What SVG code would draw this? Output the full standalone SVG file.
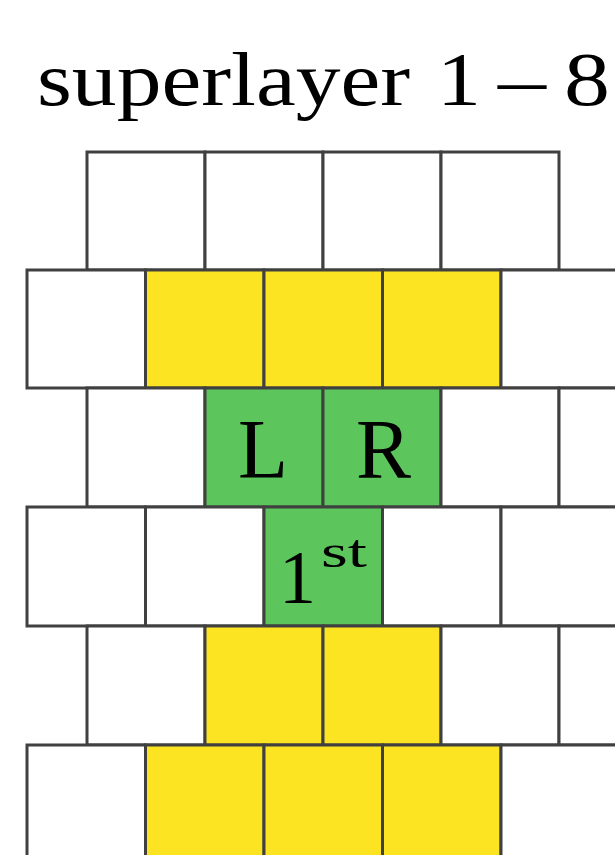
<svg xmlns="http://www.w3.org/2000/svg" width="615" height="855" viewBox="0 0 615 855">
<style>
.c{stroke:#404040;stroke-width:3;stroke-linejoin:miter}
.w{fill:#ffffff}
.y{fill:#fce422}
.g{fill:#5cc65c}
.t{font-family:"Liberation Serif","DejaVu Serif",serif;fill:#000}
</style>
<rect width="615" height="855" fill="#ffffff"/>
<g id="title">
<text class="t" x="37" y="105" font-size="77" textLength="373" lengthAdjust="spacingAndGlyphs">superlayer</text>
<text class="t" x="437" y="105" font-size="77" textLength="44" lengthAdjust="spacingAndGlyphs">1</text>
<text class="t" x="498" y="105" font-size="77" textLength="48" lengthAdjust="spacingAndGlyphs">–</text>
<text class="t" x="564" y="105" font-size="77" textLength="46" lengthAdjust="spacingAndGlyphs">8</text>
</g>
<!-- row 1 (top, offset) -->
<g id="r1c1"><rect class="c w" x="87" y="152" width="118" height="118"/></g>
<g id="r1c2"><rect class="c w" x="205" y="152" width="118" height="118"/></g>
<g id="r1c3"><rect class="c w" x="323" y="152" width="118" height="118"/></g>
<g id="r1c4"><rect class="c w" x="441" y="152" width="118" height="118"/></g>
<!-- row 2 -->
<g id="r2c1"><rect class="c w" x="27" y="270" width="118.5" height="118"/></g>
<g id="r2c2"><rect class="c y" x="145.5" y="270" width="118.5" height="118"/></g>
<g id="r2c3"><rect class="c y" x="264" y="270" width="118.5" height="118"/></g>
<g id="r2c4"><rect class="c y" x="382.5" y="270" width="118.5" height="118"/></g>
<g id="r2c5"><rect class="c w" x="501" y="270" width="118.5" height="118"/></g>
<!-- row 3 -->
<g id="r3c1"><rect class="c w" x="87" y="388" width="118" height="119"/></g>
<g id="r3c2"><rect class="c g" x="205" y="388" width="118" height="119"/><text class="t" x="238" y="478" font-size="84" textLength="50" lengthAdjust="spacingAndGlyphs">L</text></g>
<g id="r3c3"><rect class="c g" x="323" y="388" width="118" height="119"/><text class="t" x="356" y="478" font-size="84" textLength="55" lengthAdjust="spacingAndGlyphs">R</text></g>
<g id="r3c4"><rect class="c w" x="441" y="388" width="118" height="119"/></g>
<g id="r3c5"><rect class="c w" x="559" y="388" width="118" height="119"/></g>
<!-- row 4 -->
<g id="r4c1"><rect class="c w" x="27" y="507" width="118.5" height="119"/></g>
<g id="r4c2"><rect class="c w" x="145.5" y="507" width="118.5" height="119"/></g>
<g id="r4c3"><rect class="c g" x="264" y="507" width="118.5" height="119"/><text class="t" x="279" y="603" font-size="76" textLength="37" lengthAdjust="spacingAndGlyphs">1</text><text class="t" x="321" y="567" font-size="46" textLength="46" lengthAdjust="spacingAndGlyphs">st</text></g>
<g id="r4c4"><rect class="c w" x="382.5" y="507" width="118.5" height="119"/></g>
<g id="r4c5"><rect class="c w" x="501" y="507" width="118.5" height="119"/></g>
<!-- row 5 -->
<g id="r5c1"><rect class="c w" x="87" y="626" width="118" height="119"/></g>
<g id="r5c2"><rect class="c y" x="205" y="626" width="118" height="119"/></g>
<g id="r5c3"><rect class="c y" x="323" y="626" width="118" height="119"/></g>
<g id="r5c4"><rect class="c w" x="441" y="626" width="118" height="119"/></g>
<g id="r5c5"><rect class="c w" x="559" y="626" width="118" height="119"/></g>
<!-- row 6 -->
<g id="r6c1"><rect class="c w" x="27" y="745" width="118.5" height="119"/></g>
<g id="r6c2"><rect class="c y" x="145.5" y="745" width="118.5" height="119"/></g>
<g id="r6c3"><rect class="c y" x="264" y="745" width="118.5" height="119"/></g>
<g id="r6c4"><rect class="c y" x="382.5" y="745" width="118.5" height="119"/></g>
<g id="r6c5"><rect class="c w" x="501" y="745" width="118.5" height="119"/></g>
</svg>
